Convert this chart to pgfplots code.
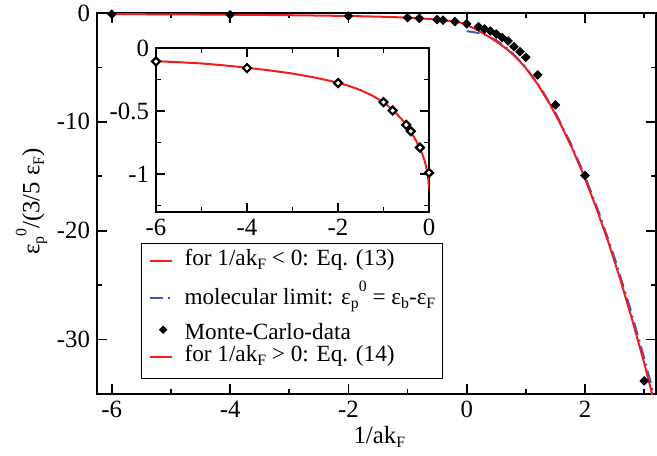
\documentclass[border=0pt]{standalone}
\usepackage{fontspec}
\setmainfont{Liberation Serif}
\usepackage{pgfplots}
\pgfplotsset{compat=1.18}
\definecolor{gred}{RGB}{240,30,30}
\definecolor{gblue}{RGB}{60,90,190}
\newcommand{\lbl}{\fontsize{12.4}{14}\selectfont}
\newcommand{\leg}{\fontsize{11.6}{13}\selectfont}
\newcommand{\sub}[1]{\raisebox{-2.2pt}{\fontsize{7.9}{8}\selectfont #1}}
\newcommand{\sups}[1]{\raisebox{6.5pt}{\fontsize{7.9}{8}\selectfont #1}}
\newcommand{\epszero}{ε\sub{p}\sups{0}}
% fixed height/depth for each legend row
\newcommand{\legrow}[3]{\raisebox{0pt}[#1][#2]{#3}}

\pgfplotstableread{
x y
-6 -0.105
-5.5 -0.113
-5 -0.123
-4.5 -0.138
-4 -0.157
-3.5 -0.178
-3 -0.203
-2.5 -0.235
-2 -0.275
-1.75 -0.302
-1.5 -0.335
-1.25 -0.377
-1 -0.43
-0.8 -0.49
-0.6 -0.565
-0.5 -0.612
-0.4 -0.665
-0.3 -0.725
-0.2 -0.795
-0.15 -0.838
-0.1 -0.89
-0.06 -0.945
-0.03 -1.0
-0.01 -1.06
0 -1.12
}\eqthirteen

\pgfplotstableread{
x y
0 -1.12
0.1 -1.35
0.2 -1.62
0.3 -1.93
0.4 -2.27
0.5 -2.62
0.6 -3.0
0.7 -3.42
0.8 -3.9
0.9 -4.45
1.0 -5.07
1.2 -6.55
1.4 -8.32
1.6 -10.35
1.8 -12.65
2.0 -15.2
2.2 -18.05
2.4 -21.15
2.6 -24.55
2.8 -28.25
3.0 -32.15
3.2 -36.4
}\eqfourteen

\pgfplotstableread{
x y
0 -1.667
0.25 -1.875
0.5 -2.5
0.75 -3.542
1.0 -5.0
1.25 -6.875
1.5 -9.167
1.75 -11.875
2.0 -15.0
2.25 -18.542
2.5 -22.5
2.75 -26.875
3.0 -31.667
3.25 -36.875
}\molecular

\pgfplotstableread{
x y
-6 -0.107
-4 -0.16
-2 -0.278
-1 -0.43
-0.8 -0.496
-0.5 -0.61
-0.4 -0.66
-0.2 -0.79
0 -0.99
0.2 -1.26
0.3 -1.47
0.4 -1.65
0.5 -1.93
0.6 -2.26
0.7 -2.57
0.8 -3.09
0.9 -3.55
1.0 -4.07
1.2 -5.69
1.5 -8.44
2.0 -14.93
3.0 -33.8
}\mcdata

\pgfplotsset{
  grace/.style={
    scale only axis,
    axis line style={line width=0.9pt},
    every tick/.style={black,line width=0.8pt},
    major tick length=5pt, minor tick length=2.5pt,
    tick label style={font=\lbl},
    label style={font=\lbl},
    legend image code/.code={\draw[##1] (0pt,0pt) -- (11pt,0pt);},
  },
  curve/.style={gred, line width=1pt},
  mol/.style={gblue, line width=1pt, dash pattern=on 6.5pt off 2.5pt on 1pt off 2.5pt},
}

\begin{document}
\begin{tikzpicture}
\begin{axis}[grace,
  name=main,
  width=279.5pt, height=190.5pt,
  xmin=-6.25, xmax=3.2, ymin=-35, ymax=0,
  xtick={-6,-4,-2,0,2}, xticklabels={-6,-4,-2,0,2},
  minor xtick={-5,-3,-1,1,3},
  ytick={-30,-20,-10,0}, yticklabels={-30,-20,-10,0},
  minor ytick={-25,-15,-5},
  clip mode=individual,
  xlabel={1/ak\sub{F}},
  ylabel={\epszero/(3/5 ε\sub{F})},
  xlabel style={at={(axis description cs:0.505,-0.113)}, anchor=center},
  ylabel style={at={(axis description cs:-0.117,0.505)}, anchor=center},
  legend style={at={(axis description cs:0.0787,0.0394)}, anchor=south west,
    draw=black, line width=0.6pt, fill=white, font=\leg,
    row sep=0pt, column sep=6pt, inner xsep=3.5pt, inner ysep=3pt,
    nodes={inner sep=0pt, text depth=}},
  legend cell align=left,
]
\addplot[mol, forget plot] table {\molecular};
\addplot[curve, forget plot] table {\eqthirteen};
\addplot[curve, forget plot] table {\eqfourteen};
\addplot[only marks, mark=square*, mark size=1.5pt, mark options={rotate=45, fill=black, draw=black}, forget plot] table {\mcdata};
\addlegendimage{curve}
\addlegendentry{\legrow{8pt}{4pt}{for 1/ak\sub{F} < 0: Eq. (13)}}
\addlegendimage{mol}
\addlegendentry{\legrow{15.5pt}{9.1pt}{molecular limit: \epszero{} = ε\sub{b}-ε\sub{F}}}
\addlegendimage{legend image code/.code={\node[fill=black, rotate=45, inner sep=0pt, minimum size=3pt] at (5.5pt,0pt) {};}}
\addlegendentry{\legrow{8.4pt}{1.4pt}{Monte-Carlo-data}}
\addlegendimage{curve}
\addlegendentry{\legrow{9.6pt}{5.6pt}{for 1/ak\sub{F} > 0: Eq. (14)}}
\end{axis}

\begin{axis}[grace,
  at={(29.5pt,91pt)}, anchor=south west,
  width=136.5pt, height=82pt,
  axis background/.style={fill=white},
  xmin=-6, xmax=0, ymin=-1.3, ymax=0,
  xtick={-6,-4,-2,0}, xticklabels={-6,-4,-2,0},
  minor xtick={-5,-3,-1},
  ytick={-1,-0.5,0}, yticklabels={-1,-0.5,0},
  minor ytick={-1.25,-0.75,-0.25},
  major tick length=4.5pt,
  clip mode=individual,
]
\addplot[curve] table {\eqthirteen};
\addplot[only marks, mark=square*, mark size=1.4pt, mark options={rotate=45, fill=white, draw=black, line width=1.1pt}] table {\mcdata};
\end{axis}
\pgfresetboundingbox
\path (-48.5pt,-30.5pt) rectangle (280pt,197pt);
\end{tikzpicture}
\end{document}
